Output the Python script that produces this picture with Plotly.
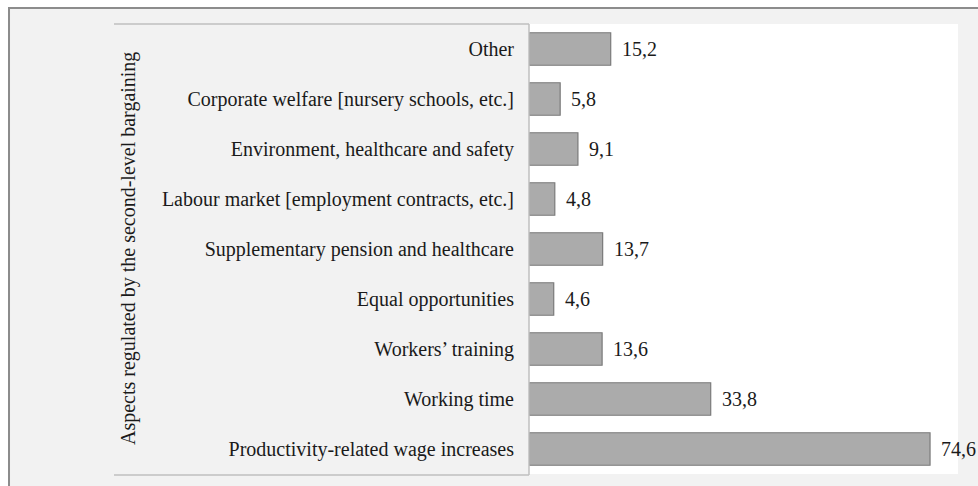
import plotly.graph_objects as go

# aspects regulated by second-level bargaining (%)
categories = [
    "Other",
    "Corporate welfare [nursery schools, etc.]",
    "Environment, healthcare and safety",
    "Labour market [employment contracts, etc.]",
    "Supplementary pension and healthcare",
    "Equal opportunities",
    "Workers\u2019 training",
    "Working time",
    "Productivity-related wage increases",
]
values = [15.2, 5.8, 9.1, 4.8, 13.7, 4.6, 13.6, 33.8, 74.6]
value_labels = ["15,2", "5,8", "9,1", "4,8", "13,7", "4,6", "13,6", "33,8", "74,6"]

axis_title = "Aspects regulated by the second-level bargaining"
serif = "Liberation Serif, Times New Roman, serif"
txt = "#1a1a1a"

fig = go.Figure()
fig.add_trace(go.Bar(
    x=values,
    y=categories,
    orientation="h",
    marker=dict(color="#ababab", line=dict(color="#7a7a7a", width=1.2)),
    hoverinfo="x+y",
))

# value labels to the right of each bar
annotations = []
for v, c, t in zip(values, categories, value_labels):
    annotations.append(dict(
        x=v, y=c, xref="x", yref="y", text=t, showarrow=False,
        xanchor="left", xshift=9, font=dict(family=serif, size=20, color=txt),
    ))

annotations.append(dict(
    x=-0.9347, y=0.5, xref="paper", yref="paper", text=axis_title,
    textangle=-90, showarrow=False, xanchor="center", yanchor="middle",
    font=dict(family=serif, size=20, color=txt),
))

shapes = [
    # grey chart frame
    dict(type="rect", xref="paper", yref="paper", x0=-1.2121, x1=1.06, y0=-0.045, y1=1.0356,
         fillcolor="#f2f2f2", line=dict(color="#8c8c8c", width=2), layer="below"),
    # white plot area
    dict(type="rect", xref="paper", yref="paper", x0=0, x1=1, y0=0, y1=1,
         fillcolor="white", line=dict(width=0), layer="below"),
    # label box edges
    dict(type="line", xref="paper", yref="paper", x0=-0.9674, x1=0, y0=1, y1=1,
         line=dict(color="#bfbfbf", width=1.5)),
    dict(type="line", xref="paper", yref="paper", x0=-0.9674, x1=0, y0=-0.002, y1=-0.002,
         line=dict(color="#bfbfbf", width=1.5)),
    dict(type="line", xref="paper", yref="paper", x0=0, x1=0, y0=-0.002, y1=1,
         line=dict(color="#bfbfbf", width=1.5)),
]

fig.update_layout(
    width=978,
    height=486,
    margin=dict(l=529, r=20, t=24, b=12),
    paper_bgcolor="white",
    plot_bgcolor="white",
    bargap=0.35,
    showlegend=False,
    separators=", ",
    font=dict(family=serif, size=20, color=txt),
    xaxis=dict(range=[0, 79.8], visible=False, fixedrange=True),
    yaxis=dict(
        categoryorder="array", categoryarray=categories, autorange="reversed",
        showgrid=False, zeroline=False, showline=False, ticks="",
        ticklabelstandoff=14, tickfont=dict(family=serif, size=20, color=txt),
    ),
    annotations=annotations,
    shapes=shapes,
)

# drop the default page margin so the figure sits at the window's corner
fig.write_html(
    "out.html",
    config={"displayModeBar": False},
    post_script="document.body.style.margin='0';document.body.style.overflow='hidden';",
)
